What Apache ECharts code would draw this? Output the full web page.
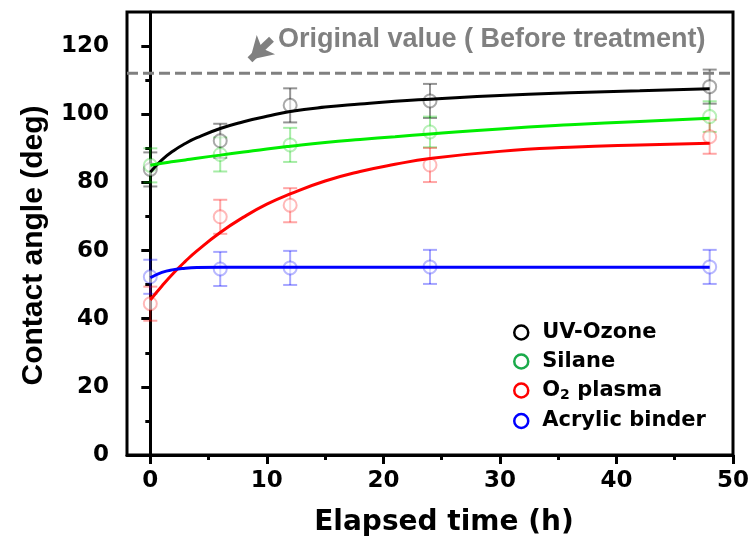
<!DOCTYPE html>
<html>
<head>
<meta charset="utf-8">
<script src="https://cdn.jsdelivr.net/npm/echarts@6/dist/echarts.min.js"></script>
<style>html,body{margin:0;padding:0;background:#fff;}#c{width:753px;height:545px;}</style>
</head>
<body>
<div id="c"></div>
<script>
// ---- data ----
const times = [0, 6, 12, 24, 48];
const uvOzone = [83.8, 92.2, 102.6, 103.9, 108.1];
const silane = [85, 88.2, 91, 94.8, 99.3];
const plasma = [44.4, 69.9, 73.3, 85.1, 93.4];
const acrylic = [52.3, 54.6, 54.9, 55.2, 55.2];
const uvOzoneErr = [5, 5, 5, 5, 5];
const silaneErr = [5, 5, 5, 4.5, 4.5];
const plasmaErr = [5, 5, 5, 5, 5];
const acrylicErr = [5, 5, 5, 5, 5];

const fitTimes = [0, 1, 2, 3, 4, 6, 8, 10, 12, 15, 18, 21, 24, 30, 36, 42, 48];
const uvOzoneFit = [83, 86.6, 89.3, 91.4, 93.1, 95.8, 97.8, 99.4, 100.8, 102.1, 103.0, 103.8, 104.4, 105.5, 106.3, 106.9, 107.5];
const silaneFit = [85, 85.6, 86.1, 86.6, 87.1, 88.0, 88.9, 89.8, 90.6, 91.7, 92.6, 93.4, 94.2, 95.7, 96.9, 97.9, 98.8];
const plasmaFit = [45.5, 49.6, 53.4, 56.8, 59.9, 65.3, 69.8, 73.6, 76.6, 80.4, 83.2, 85.3, 87.0, 89.1, 90.3, 91.0, 91.5];
const acrylicFit = [52, 53.6, 54.4, 54.8, 55.0, 55.1, 55.1, 55.1, 55.1, 55.1, 55.1, 55.1, 55.1, 55.1, 55.1, 55.1, 55.1];

const originalValue = 112;
const xMajorTicks = [0, 10, 20, 30, 40, 50];
const xMinorTicks = [5, 15, 25, 35, 45];
const yMajorTicks = [0, 20, 40, 60, 80, 100, 120];
const yMinorTicks = [10, 30, 50, 70, 90, 110];
const seriesNames = ['UV-Ozone', 'Silane', 'O2 plasma', 'Acrylic binder'];

// ---- styles ----
const lineColors = ['#000000', '#00ee00', '#ff0000', '#0000ff'];
const fadedColors = ['rgba(0,0,0,0.42)', 'rgba(0,200,0,0.35)', 'rgba(255,0,0,0.35)', 'rgba(0,0,255,0.35)'];
const legendColors = ['#000000', '#1aaa4a', '#ff0000', '#0000ff'];
const labelFont = 'DejaVu Sans';

const chart = echarts.init(document.getElementById('c'));

const vals = [uvOzone, silane, plasma, acrylic];
const errs = [uvOzoneErr, silaneErr, plasmaErr, acrylicErr];
const fits = [uvOzoneFit, silaneFit, plasmaFit, acrylicFit];

const series = [];
vals.forEach((v, k) => {
  series.push({
    type: 'custom',
    silent: true,
    z: 1,
    data: times.map((t, i) => [t, v[i] - errs[k][i], v[i] + errs[k][i]]),
    renderItem: (params, api) => {
      const x = api.value(0);
      const top = api.coord([x, api.value(2)]);
      const bot = api.coord([x, api.value(1)]);
      const hw = 7;
      const st = { stroke: fadedColors[k], lineWidth: 2 };
      return {
        type: 'group',
        children: [
          { type: 'line', shape: { x1: top[0], y1: top[1], x2: bot[0], y2: bot[1] }, style: st },
          { type: 'line', shape: { x1: top[0] - hw, y1: top[1], x2: top[0] + hw, y2: top[1] }, style: st },
          { type: 'line', shape: { x1: bot[0] - hw, y1: bot[1], x2: bot[0] + hw, y2: bot[1] }, style: st }
        ]
      };
    }
  });
});
vals.forEach((v, k) => {
  series.push({
    name: seriesNames[k],
    type: 'scatter',
    z: 2,
    symbol: 'circle',
    symbolSize: 13,
    itemStyle: { color: 'rgba(255,255,255,0.7)', borderColor: fadedColors[k], borderWidth: 2 },
    data: times.map((t, i) => [t, v[i]])
  });
});
fits.forEach((f, k) => {
  series.push({
    type: 'line',
    z: 3,
    smooth: true,
    showSymbol: false,
    silent: true,
    lineStyle: { color: lineColors[k], width: 3 },
    data: fitTimes.map((t, i) => [t, f[i]])
  });
});
series.push({
  type: 'line',
  z: 4,
  showSymbol: false,
  silent: true,
  lineStyle: { color: '#808080', width: 3, type: [11, 5] },
  data: [[-2, originalValue], [50, originalValue]],
  markLine: {
    silent: true,
    symbol: ['none', 'arrow'],
    symbolSize: [20, 22],
    label: { show: false },
    lineStyle: { color: '#808080', width: 7, type: 'solid' },
    data: [[{ coord: [10.4, 122] }, { coord: [8.55, 116.0] }]]
  }
});

const option = {
  animation: false,
  backgroundColor: '#ffffff',
  grid: { left: 127, right: 20, top: 12, bottom: 90, show: true, borderColor: '#000', borderWidth: 3, backgroundColor: 'transparent' },
  xAxis: [
    {
      type: 'value', min: -2, max: 50, position: 'bottom',
      name: 'Elapsed time (h)', nameLocation: 'middle', nameGap: 54,
      nameTextStyle: { fontFamily: labelFont, fontWeight: 'bold', fontSize: 28, color: '#000', padding: [0, 0, 0, 28] },
      axisLine: { lineStyle: { color: '#000', width: 3 } },
      axisTick: { customValues: xMajorTicks, length: 9, lineStyle: { color: '#000', width: 3 } },
      axisLabel: { customValues: xMajorTicks, margin: 15, fontFamily: labelFont, fontWeight: 'bold', fontSize: 23, color: '#000' },
      splitLine: { show: false }
    },
    {
      type: 'value', min: -2, max: 50, position: 'bottom',
      axisLine: { show: false },
      axisTick: { customValues: xMinorTicks, length: 5, lineStyle: { color: '#000', width: 3 } },
      axisLabel: { show: false, customValues: xMinorTicks },
      splitLine: { show: false }
    }
  ],
  yAxis: [
    {
      type: 'value', min: 0, max: 130, position: 'left',
      name: 'Contact angle (deg)', nameLocation: 'middle', nameGap: 78,
      nameTextStyle: { fontFamily: 'Liberation Sans', fontWeight: 'bold', fontSize: 30, color: '#000', padding: [0, 24, 0, 0] },
      axisLine: { lineStyle: { color: '#000', width: 3 } },
      axisTick: { customValues: yMajorTicks, length: 9, lineStyle: { color: '#000', width: 3 } },
      axisLabel: { customValues: yMajorTicks, margin: 18, fontFamily: labelFont, fontWeight: 'bold', fontSize: 23, color: '#000' },
      splitLine: { show: false }
    },
    {
      type: 'value', min: 0, max: 130, position: 'left',
      axisLine: { show: false },
      axisTick: { customValues: yMinorTicks, length: 5, lineStyle: { color: '#000', width: 3 } },
      axisLabel: { show: false, customValues: yMinorTicks },
      splitLine: { show: false }
    }
  ],
  legend: {
    orient: 'vertical',
    left: 508,
    top: 317,
    itemGap: 8,
    itemWidth: 32,
    itemHeight: 14,
    icon: 'circle',
    selectedMode: false,
    textStyle: {
      fontFamily: labelFont, fontWeight: 'bold', fontSize: 21, color: '#000',
      rich: {
        n: { fontFamily: labelFont, fontWeight: 'bold', fontSize: 21, color: '#000' },
        s: { fontFamily: labelFont, fontWeight: 'bold', fontSize: 14, color: '#000', padding: [10, 0, 0, 0] }
      }
    },
    formatter: name => name === 'O2 plasma' ? '{n|O}{s|2}{n| plasma}' : name,
    data: seriesNames.map((n, k) => ({
      name: n,
      icon: 'circle',
      itemStyle: { color: 'rgba(0,0,0,0)', borderColor: legendColors[k], borderWidth: 2.5, opacity: 1 }
    }))
  },
  graphic: [
    {
      type: 'text',
      left: 278,
      top: 26,
      silent: true,
      style: { text: 'Original value ( Before treatment)', fontFamily: 'Liberation Sans', fontWeight: 'bold', fontSize: 27, fill: '#808080' }
    }
  ],
  series: series
};
series.forEach(s => { s.xAxisIndex = 0; s.yAxisIndex = 0; });
chart.setOption(option);
</script>
</body>
</html>
